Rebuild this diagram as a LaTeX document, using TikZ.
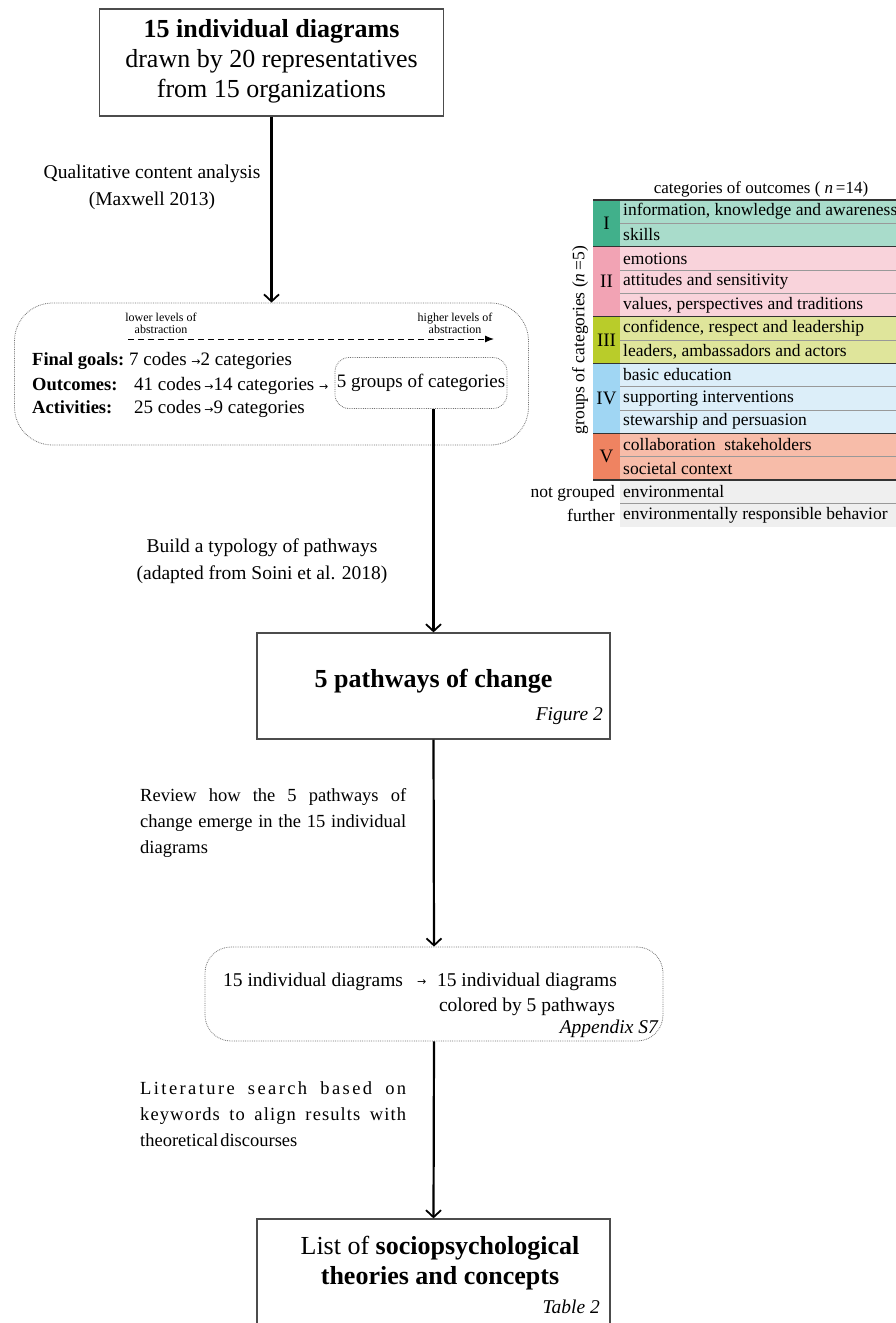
\documentclass[tikz,border=0pt]{standalone}
\usepackage{fontspec}
\setmainfont{Liberation Serif}
\newfontfamily\djv{DejaVu Sans}
\usetikzlibrary{arrows.meta}
\definecolor{gIa}{HTML}{41B08B}
\definecolor{gIb}{HTML}{A9DCCB}
\definecolor{gIIa}{HTML}{F2A3B4}
\definecolor{gIIb}{HTML}{F9D3DB}
\definecolor{gIIIa}{HTML}{B9CC2A}
\definecolor{gIIIb}{HTML}{DFE59B}
\definecolor{gIVa}{HTML}{A0D6F3}
\definecolor{gIVb}{HTML}{DCEEF9}
\definecolor{gVa}{HTML}{EF8361}
\definecolor{gVb}{HTML}{F7BCA9}
\definecolor{gNG}{HTML}{EFEFEF}
\newcommand\fsz[2]{\fontsize{#1}{#2}\selectfont}
\newcommand\arrw{{\djv\fontsize{11}{11}\selectfont →}}
\begin{document}
\begin{tikzpicture}[x=1pt,y=-1pt,
  box/.style={draw=black!70, line width=1.2pt},
  dotbox/.style={draw=black!55, densely dotted, line width=0.8pt},
  flow/.style={line width=2.2pt, -{Straight Barb[length=7pt,width=15pt,line width=1.8pt]}},
  big/.style={font=\fsz{26}{30}, align=center, inner sep=0pt},
  lbl/.style={font=\fsz{19.5}{27}, align=center, inner sep=0pt},
  mid/.style={font=\fsz{19}{21}, inner sep=0pt, anchor=base west},
  lit/.style={font=\fsz{18.5}{26}, inner sep=0pt, anchor=base west},
  tiny/.style={font=\fsz{12}{12}, align=center, inner sep=0pt},
  cell/.style={font=\fsz{17.5}{18}, inner sep=0pt, anchor=west},
  grp/.style={font=\fsz{19}{20}, inner sep=0pt},
  darkline/.style={draw=black!80, line width=1.2pt},
  grayline/.style={draw=black!40, line width=1pt}]
\useasboundingbox (0,0) rectangle (896,1323);
\clip (0,0) rectangle (896,1323);

% ---------- top box
\node[box, minimum width=344pt, minimum height=107pt, inner sep=0pt] (top) at (271.5,62.5) {};
\node[big] (t1) at (271.5,31) {\textbf{15 individual diagrams}};
\node[big] (t2) at (271.5,61) {drawn by 20 representatives};
\node[big] (t3) at (271.5,91) {from 15 organizations};

\node[lbl] (l1) at (152,187) {Qualitative content analysis\\(Maxwell 2013)};

% ---------- big dotted box
\node[dotbox, rounded corners=38pt, minimum width=514pt, minimum height=142pt, inner sep=0pt] (coding) at (271.5,374) {};
\node[tiny] (lo) at (161,323) {lower levels of\\abstraction};
\node[tiny] (hi) at (455,323) {higher levels of\\abstraction};
\coordinate (dA) at (128,339);
\coordinate (dB) at (494,339);
\draw[line width=1pt, dash pattern=on 6pt off 4pt, -{Latex[length=9pt,width=7pt]}] (dA) -- (dB);

\node[mid, font=\fsz{18.5}{21}\bfseries] (fg) at (32,365) {Final goals:};
\node[mid] (fgv) at (129,365) {7 codes \arrw 2 categories};
\node[mid, font=\fsz{18.5}{21}\bfseries] (oc) at (32,390) {Outcomes:};
\node[mid] (ocv) at (134,390) {41 codes\,\arrw 14 categories \arrw};
\node[mid, font=\fsz{18.5}{21}\bfseries] (ac) at (32,413) {Activities:};
\node[mid] (acv) at (134,413) {25 codes\,\arrw 9 categories};
\node[dotbox, rounded corners=14pt, minimum width=172pt, minimum height=51pt, inner sep=0pt] (grpbox) at (421,383) {};
\node[font=\fsz{19}{21}, inner sep=0pt] (grptxt) at (421,383) {5 groups of categories};

% ---------- pathways
\node[box, minimum width=353pt, minimum height=106pt, inner sep=0pt] (pw) at (433.5,686) {};
\node[big] (pwt) at (433.5,681) {\textbf{5 pathways of change}};
\node[font=\fsz{19.5}{20}\itshape, inner sep=0pt, anchor=east] (fig2) at (603,716) {Figure 2};

\node[lbl] (l2) at (262,561) {Build a typology of pathways\\(adapted from Soini et al. 2018)};

\node[font=\fsz{18.5}{26}, inner sep=0pt, anchor=north west, text width=266pt, align=justify] (l3) at (140,788)
  {Review how the 5 pathways of\linebreak change emerge in the 15 individual\linebreak diagrams};

% ---------- individual diagrams box
\node[dotbox, rounded corners=26pt, minimum width=458pt, minimum height=94pt, inner sep=0pt] (ind) at (434,994) {};
\node[mid, font=\fsz{19.5}{25}] (i1) at (223,986) {15 individual diagrams};
\node[mid] (iar) at (417,985) {\arrw};
\node[font=\fsz{19.5}{25}, inner sep=0pt, anchor=base] (i2) at (527,986) {15 individual diagrams};
\node[font=\fsz{19.5}{25}, inner sep=0pt, anchor=base] (i3) at (527,1011) {colored by 5 pathways};
\node[font=\fsz{19.5}{20}\itshape, inner sep=0pt, anchor=east] (app) at (658,1029) {Appendix S7};

\node[lit] (l4a) at (140,1094) {\makebox[266pt][s]{\addfontfeatures{LetterSpace=13}Literature search based on}};
\node[lit] (l4b) at (140,1120) {\makebox[266pt][s]{\addfontfeatures{LetterSpace=6}keywords to align results with}};
\node[lit] (l4c) at (140,1146) {theoretical\hspace{2pt}discourses};

% ---------- final box
\node[box, minimum width=353pt, minimum height=125pt, inner sep=0pt] (fin) at (433.5,1281.5) {};
\node[big] (f1) at (440,1248) {List of \textbf{sociopsychological}};
\node[big] (f2) at (440,1278) {\textbf{theories and concepts}};
\node[font=\fsz{19.5}{20}\itshape, inner sep=0pt, anchor=east] (tab2) at (600,1307) {Table 2};

% ---------- connectors
\draw[flow] (top.south) -- (coding.north);
\draw[flow] (grpbox.south -| pw.north) -- (pw.north);
\draw[flow] (pw.south) -- (ind.north);
\draw[flow] (ind.south) -- (fin.north);

% ---------- table
\fill[gIa] (593,200) rectangle (620,246.67);
\fill[gIIa] (593,246.67) rectangle (620,316.67);
\fill[gIIIa] (593,316.67) rectangle (620,363.33);
\fill[gIVa] (593,363.33) rectangle (620,433.33);
\fill[gVa] (593,433.33) rectangle (620,480);
\fill[gIb] (620,200) rectangle (896,246.67);
\fill[gIIb] (620,246.67) rectangle (896,316.67);
\fill[gIIIb] (620,316.67) rectangle (896,363.33);
\fill[gIVb] (620,363.33) rectangle (896,433.33);
\fill[gVb] (620,433.33) rectangle (896,480);
\fill[gNG] (620,480) rectangle (896,526.67);
\foreach \yy in {223.33,270,293.33,340,386.67,410,456.67,503.33}
  \draw[grayline] (620,\yy) -- (896,\yy);
\foreach \yy in {200,246.67,316.67,363.33,433.33,480}
  \draw[darkline] (593,\yy) -- (896,\yy);

\node[grp] (gI) at (606.5,223.33) {I};
\node[grp] (gII) at (606.5,281.67) {II};
\node[grp] (gIII) at (606.5,340) {III};
\node[grp] (gIV) at (606.5,398.33) {IV};
\node[grp] (gV) at (606.5,456.67) {V};

\node[cell] (r1) at (623,211.67) {information, knowledge and awareness};
\node[cell] (r2) at (623,235) {skills};
\node[cell] (r3) at (623,258.33) {emotions};
\node[cell] (r4) at (623,281.67) {attitudes and sensitivity};
\node[cell] (r5) at (623,305) {values, perspectives and traditions};
\node[cell] (r6) at (623,328.33) {confidence, respect and leadership};
\node[cell] (r7) at (623,351.67) {leaders, ambassadors and actors};
\node[cell] (r8) at (623,375) {basic education};
\node[cell] (r9) at (623,398.33) {supporting interventions};
\node[cell] (r10) at (623,421.67) {stewarship and persuasion};
\node[cell] (r11) at (623,445) {collaboration\ \ stakeholders};
\node[cell] (r12) at (623,468.33) {societal context};
\node[cell] (r13) at (623,491.67) {environmental};
\node[cell] (r14) at (623,515) {environmentally responsible behavior};

\node[font=\fsz{17}{18}, inner sep=0pt] (hdr) at (761,189) {categories of outcomes ( \textit{n}\,=14)};
\node[font=\fsz{17.5}{18}, inner sep=0pt, rotate=90] (side) at (580,340) {groups of categories (\textit{n}\,=5)};
\node[font=\fsz{17.5}{24}, inner sep=0pt, align=right, anchor=east] (ng) at (615,503.33) {not grouped\\further};
\end{tikzpicture}
\end{document}
